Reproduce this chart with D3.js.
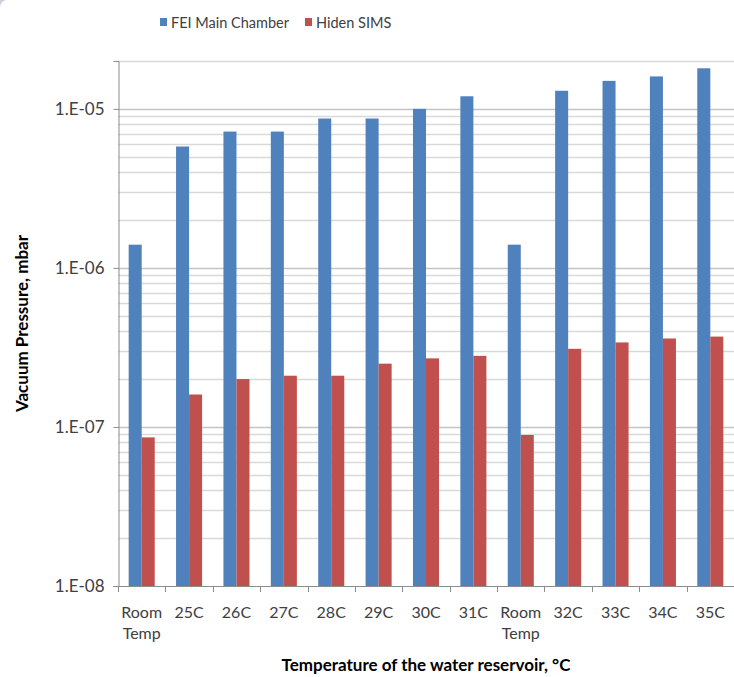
<!DOCTYPE html>
<html>
<head>
<meta charset="utf-8">
<script src="https://cdn.jsdelivr.net/npm/d3@7"></script>
<style>
  body { margin: 0; background: #ffffff; }
  text { font-family: Lato, "Liberation Sans", sans-serif; fill: #404040; }
</style>
</head>
<body>
<svg id="chart" width="734" height="677"></svg>
<script>
// Reservoir temperature steps (two room-temperature reference points)
const categories = ["Room Temp", "25C", "26C", "27C", "28C", "29C", "30C", "31C",
                    "Room Temp", "32C", "33C", "34C", "35C"];
// Vacuum pressure readings, mbar
const feiMainChamber = [1.4e-6, 5.8e-6, 7.2e-6, 7.2e-6, 8.7e-6, 8.7e-6, 1.0e-5, 1.2e-5,
                        1.4e-6, 1.3e-5, 1.5e-5, 1.6e-5, 1.8e-5];
const hidenSims = [8.6e-8, 1.6e-7, 2.0e-7, 2.1e-7, 2.1e-7, 2.5e-7, 2.7e-7, 2.8e-7,
                   8.9e-8, 3.1e-7, 3.4e-7, 3.6e-7, 3.7e-7];
const seriesNames = ["FEI Main Chamber", "Hiden SIMS"];
const seriesColors = ["#4F81BD", "#C0504D"];
const yTickValues = [1e-8, 1e-7, 1e-6, 1e-5];
const yTickLabels = ["1.E-08", "1.E-07", "1.E-06", "1.E-05"];

const series = [feiMainChamber, hidenSims];

const svg = d3.select("#chart");
const plot = { left: 118, right: 734, top: 61, bottom: 586 };

// chart frame corner
svg.append("path")
  .attr("d", "M0,0 H7 A7,7 0 0 0 0,7 Z")
  .attr("fill", "#c9d0da");

const x = d3.scaleBand()
  .domain(d3.range(categories.length))
  .range([plot.left, plot.right])
  .padding(0);

const x1 = d3.scaleBand()
  .domain(d3.range(series.length))
  .range([0, x.bandwidth()])
  .paddingInner(0)
  .paddingOuter(0.82);

const y = d3.scaleLog()
  .domain([1e-8, 2e-5])
  .range([plot.bottom, plot.top]);

// gridlines: every 1..9 within each decade
const gridValues = [];
for (let e = -8; e <= -5; e++) {
  for (let m = 1; m <= 9; m++) {
    const v = m * Math.pow(10, e);
    if (v <= 2e-5 + 1e-12) gridValues.push(v);
  }
}
svg.append("g")
  .selectAll("line")
  .data(gridValues.filter(v => v > 1e-8))
  .join("line")
  .attr("x1", plot.left)
  .attr("x2", plot.right)
  .attr("y1", d => Math.round(y(d)) + 0.5)
  .attr("y2", d => Math.round(y(d)) + 0.5)
  .attr("stroke", d => yTickValues.includes(d) ? "#c4c4c4" : "#d9d9d9")
  .attr("stroke-width", 1.3);

// bars
const groups = svg.append("g")
  .selectAll("g")
  .data(series)
  .join("g")
  .attr("fill", (d, i) => seriesColors[i]);

groups.each(function (vals, si) {
  d3.select(this).selectAll("rect")
    .data(vals)
    .join("rect")
    .attr("x", (d, i) => x(i) + x1(si))
    .attr("width", x1.bandwidth())
    .attr("y", d => y(d))
    .attr("height", d => plot.bottom - y(d));
});

// y axis
const yAxis = d3.axisLeft(y)
  .tickValues(yTickValues)
  .tickFormat((d, i) => yTickLabels[i])
  .tickSize(5)
  .tickPadding(9);
const gy = svg.append("g")
  .attr("transform", `translate(${plot.left + 0.5},0)`)
  .call(yAxis);
gy.select(".domain").attr("stroke", "#8c8c8c");
gy.selectAll(".tick line").attr("stroke", "#8c8c8c");
gy.selectAll(".tick text")
  .style("font-size", "17px")
  .attr("fill", "#404040");

// x axis
const xAxis = d3.axisBottom(x)
  .tickValues([])
  .tickSize(0);
const gx = svg.append("g")
  .attr("transform", `translate(0,${plot.bottom + 0.5})`)
  .call(xAxis);
gx.select(".domain").attr("stroke", "#8c8c8c").attr("d", `M${plot.left},0H${plot.right}`);

// category boundary ticks
svg.append("g")
  .selectAll("line")
  .data(d3.range(categories.length + 1))
  .join("line")
  .attr("x1", i => Math.round(plot.left + i * x.step()) + 0.5)
  .attr("x2", i => Math.round(plot.left + i * x.step()) + 0.5)
  .attr("y1", plot.bottom)
  .attr("y2", plot.bottom + 6)
  .attr("stroke", "#8c8c8c");

// category labels
const labels = svg.append("g")
  .selectAll("text")
  .data(categories)
  .join("text")
  .attr("text-anchor", "middle")
  .style("font-size", "16px");
labels.each(function (d, i) {
  const parts = d.split(" ");
  d3.select(this).selectAll("tspan")
    .data(parts)
    .join("tspan")
    .attr("x", x(i) + x.bandwidth() / 2)
    .attr("y", (p, j) => 618 + j * 21)
    .text(p => p);
});

// axis titles
svg.append("text")
  .attr("transform", `translate(28,${(plot.top + plot.bottom) / 2}) rotate(-90)`)
  .attr("text-anchor", "middle")
  .style("font-size", "17px")
  .style("font-weight", "bold")
  .style("fill", "#000")
  .text("Vacuum Pressure, mbar");

svg.append("text")
  .attr("x", (plot.left + plot.right) / 2)
  .attr("y", 671)
  .attr("text-anchor", "middle")
  .style("font-size", "17px")
  .style("font-weight", "bold")
  .style("fill", "#000")
  .text("Temperature of the water reservoir, °C");

// legend
const legendPos = [160, 305];
const legend = svg.append("g")
  .selectAll("g")
  .data(seriesNames)
  .join("g")
  .attr("transform", (d, i) => `translate(${legendPos[i]},0)`);
legend.append("rect")
  .attr("x", 0).attr("y", 18)
  .attr("width", 7).attr("height", 8)
  .attr("fill", (d, i) => seriesColors[i]);
legend.append("text")
  .attr("x", 11).attr("y", 27.5)
  .style("font-size", "14.5px")
  .text(d => d);
</script>
</body>
</html>
